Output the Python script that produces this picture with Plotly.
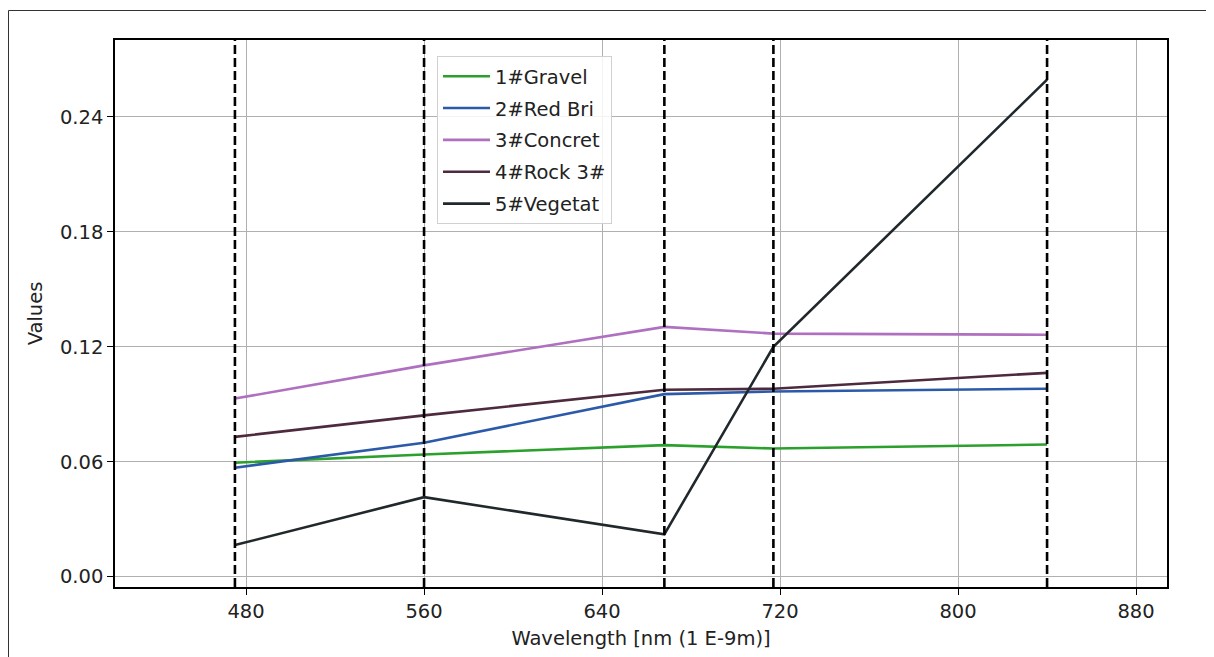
import plotly.graph_objects as go

wavelengths = [475, 560, 668, 717, 840]
band_lines = [475, 560, 668, 717, 840]

gravel = [0.0595, 0.0638, 0.0687, 0.0669, 0.0690]
red_brick = [0.0569, 0.0699, 0.0953, 0.0967, 0.0981]
concrete = [0.0930, 0.1103, 0.1304, 0.1269, 0.1263]
rock = [0.0730, 0.0842, 0.0976, 0.0981, 0.1064]
vegetation = [0.0165, 0.0415, 0.0221, 0.1200, 0.2595]

series_names = ["1#Gravel", "2#Red Bri", "3#Concret", "4#Rock 3#", "5#Vegetat"]
series_values = [gravel, red_brick, concrete, rock, vegetation]
series_colors = ["#2ca02c", "#2b5aa8", "#b070c0", "#4d2a3e", "#20282c"]

x_ticks = [480, 560, 640, 720, 800, 880]
y_ticks = [0.00, 0.06, 0.12, 0.18, 0.24]

# page offset compensation (browser body margin ~8px)
OFF = 8
PL, PR, PT, PB = 115 - OFF, 1167 - OFF, 40 - OFF, 587 - OFF
PW, PH = PR - PL, PB - PT

fig = go.Figure()
for i, (name, vals, col) in enumerate(zip(series_names, series_values, series_colors)):
    fig.add_trace(go.Scatter(
        x=wavelengths, y=vals, mode="lines", name=name,
        line=dict(color=col, width=2.6), legendgroup=f"g{i}",
    ))

for wl in band_lines:
    fig.add_shape(type="line", xref="x", yref="paper", x0=wl, x1=wl, y0=0, y1=1,
                  line=dict(color="black", width=2.6, dash="9px,4px"), layer="above")

# figure frame
fig.add_shape(type="rect", xref="paper", yref="paper",
              x0=(0.5 - PL) / PW, x1=1.2, y0=-0.3, y1=(PB - 2.5) / PH,
              line=dict(color="#333333", width=1), layer="below")

axis_common = dict(
    showline=True, linecolor="black", linewidth=1.5, mirror=True,
    ticks="outside", ticklen=6, tickcolor="black", tickwidth=1.3,
    showgrid=True, gridcolor="#b0b0b0", gridwidth=1.3, zeroline=False,
    tickfont=dict(family="DejaVu Sans", size=19.5, color="#222222"),
)

fig.update_layout(
    width=1214, height=657,
    margin=dict(l=PL, r=1214 - PR, t=PT, b=657 - PB),
    paper_bgcolor="white", plot_bgcolor="white",
    font=dict(family="DejaVu Sans", size=19.5, color="#222222"),
    xaxis=dict(range=[421.1, 893.9], tickvals=x_ticks, ticktext=[str(v) for v in x_ticks],
               title=dict(text="Wavelength [nm (1 E-9m)]", font=dict(size=19.5), standoff=9),
               **axis_common),
    yaxis=dict(range=[-0.0054, 0.2802], tickvals=y_ticks, ticktext=[f"{v:.2f}" for v in y_ticks],
               title=dict(text="Values", font=dict(size=19.5), standoff=12),
               **axis_common),
    legend=dict(x=(437 - OFF - PL) / PW, y=(PB - (56 - OFF)) / PH, xanchor="left", yanchor="top",
                bgcolor="rgba(255,255,255,0.85)", bordercolor="#d0d0d0", borderwidth=1,
                font=dict(size=19.5, family="DejaVu Sans", color="#222222"),
                tracegroupgap=3.5, itemwidth=47),
    showlegend=True,
)

fig.write_html("out.html")
